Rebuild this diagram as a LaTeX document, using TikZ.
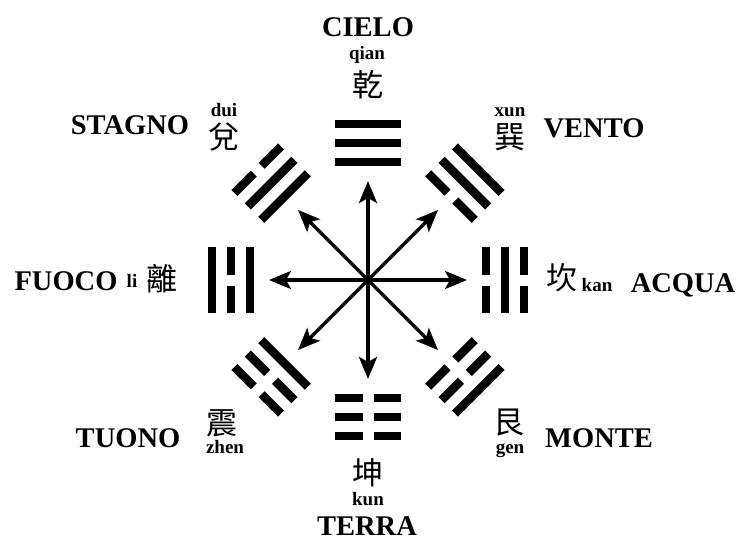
\documentclass[tikz,border=0pt]{standalone}
\usepackage{fontspec}
\setmainfont{Liberation Serif}
\newfontfamily\cjk{Noto Sans CJK TC}
\usetikzlibrary{arrows.meta,calc}
\tikzset{
  lbl/.style={font=\fontsize{28.5}{30}\selectfont\bfseries, anchor=base, inner sep=0pt},
  py/.style={font=\fontsize{19}{20}\selectfont\bfseries, anchor=base, inner sep=0pt},
  hz/.style={font=\fontsize{31}{32}\cjk, inner sep=0pt},
  arr/.style={line width=3.5pt, -{Stealth[length=22pt,width=18pt,inset=5pt]}},
}
\newcommand{\yang}[1]{\fill (-33,#1-4.3) rectangle (33,#1+4.3);}
\newcommand{\yin}[1]{\fill (-33,#1-4.3) rectangle (-5.5,#1+4.3); \fill (5.5,#1-4.3) rectangle (33,#1+4.3);}
% #1 angle, #2 inner, #3 middle, #4 outer (commands \yang / \yin)
\newcommand{\trig}[4]{\begin{scope}[shift={(c)}, rotate=#1-90]#2{118}#3{137}#4{156}\end{scope}}
\begin{document}
\begin{tikzpicture}[x=1pt,y=1pt]
\useasboundingbox (0,0) rectangle (741,542);
\coordinate (c) at (368,262);
% arrows
\foreach \a/\n in {90/N,45/NE,0/E,-45/SE,-90/S,-135/SW,180/W,135/NW}{
  \coordinate (a\n) at ($(c)+(\a:99)$);
  \draw[arr] (c) -- (a\n);
}
% trigrams
\trig{90}{\yang}{\yang}{\yang}   % qian
\trig{45}{\yin}{\yang}{\yang}    % xun
\trig{0}{\yin}{\yang}{\yin}      % kan
\trig{-45}{\yin}{\yin}{\yang}    % gen
\trig{-90}{\yin}{\yin}{\yin}     % kun
\trig{-135}{\yang}{\yin}{\yin}   % zhen
\trig{180}{\yang}{\yin}{\yang}   % li
\trig{135}{\yang}{\yang}{\yin}   % dui
% labels
\node[lbl] (cielo) at (368,505) {CIELO};
\node[py] (qian) at (367,482) {qian};
\node[hz] (hqian) at (368,457) {乾};

\node[lbl] (vento) at (594,405) {VENTO};
\node[py] (xun) at (510,425) {xun};
\node[hz] (hxun) at (510,405) {巽};

\node[lbl] (acqua) at (683,250) {ACQUA};
\node[py] (kan) at (597,251) {kan};
\node[hz] (hkan) at (562,264) {坎};

\node[lbl] (monte) at (599,95) {MONTE};
\node[hz] (hgen) at (509,119) {艮};
\node[py] (gen) at (510,89) {gen};

\node[hz] (hkun) at (368,69) {坤};
\node[py] (kun) at (368,37) {kun};
\node[lbl] (terra) at (367,7) {TERRA};

\node[lbl] (tuono) at (128,95) {TUONO};
\node[hz] (hzhen) at (222,119) {震};
\node[py] (zhen) at (225,89) {zhen};

\node[lbl] (fuoco) at (66,252) {FUOCO};
\node[py] (li) at (132,255) {li};
\node[hz] (hli) at (162,263) {離};

\node[lbl] (stagno) at (130,407) {STAGNO};
\node[py] (dui) at (224,425) {dui};
\node[hz] (hdui) at (224,405) {兌};
\end{tikzpicture}
\end{document}
